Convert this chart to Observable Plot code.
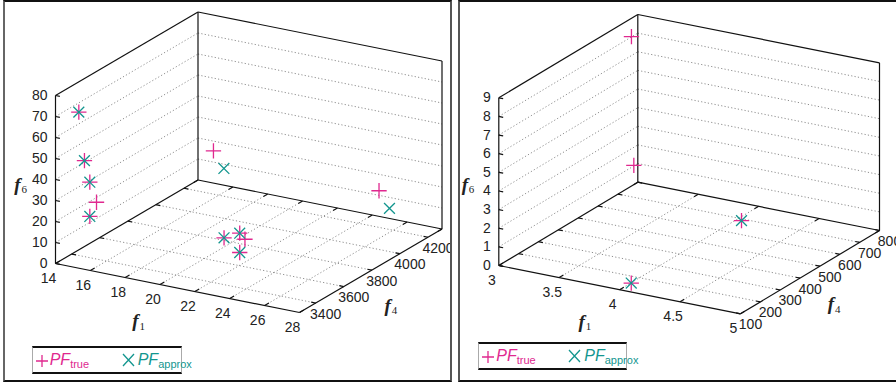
<!DOCTYPE html>
<html><head><meta charset="utf-8">
<script src="https://cdn.jsdelivr.net/npm/d3@7"></script>
<script src="https://cdn.jsdelivr.net/npm/@observablehq/plot@0.6"></script>
<style>
body{margin:0;background:#fff;}
#wrap{position:relative;width:896px;height:383px;overflow:hidden;}
.panel{position:absolute;top:0;height:378px;border-top:2px solid #111;border-bottom:2px solid #111;}
#left{left:3px;width:445px;border-left:2px solid #666;border-right:2px solid #555;}
#right{left:458px;width:438px;border-left:2px solid #555;}
.panel svg{position:absolute;left:0;top:0;}
.legend{position:absolute;height:24px;border-top:2px solid #111;border-bottom:2px solid #111;border-left:1px solid #aaa;border-right:1px solid #aaa;background:#fff;}
.legend .it{position:absolute;top:3px;font-family:"Liberation Sans Narrow","Liberation Sans",sans-serif;font-style:italic;font-size:16px;line-height:18px;white-space:nowrap;}
.legend .it sub{font-style:normal;font-size:11px;vertical-align:-3px;}
.legend svg{position:absolute;top:0;}
</style>
</head><body>
<div id="wrap">
  <div class="panel" id="left"></div>
  <div class="panel" id="right"></div>
</div>
<script>
// ---------- DATA ----------
const seriesNames = ["PF", "PF"];
const seriesSubs = ["true", "approx"];
const colorTrue = "#e0288f";
const colorApprox = "#13968f";

// left panel
const leftF1Domain = [14, 28];
const leftF4Domain = [3285, 4300];
const leftF6Domain = [0, 80];
const leftF1Ticks = [14, 16, 18, 20, 22, 24, 26, 28];
const leftF4Ticks = [3400, 3600, 3800, 4000, 4200];
const leftF6Ticks = [0, 10, 20, 30, 40, 50, 60, 70, 80];
const leftTrueF1 = [15.0, 15.5, 15.8, 16.2, 15.8, 15.7, 25.2, 20.4, 21.3, 21.6, 21.3];
const leftTrueF4 = [3327, 3305, 3306, 3304, 3306, 4199, 4199, 3691, 3691, 3691, 3691];
const leftTrueF6 = [72.1, 50.7, 40.9, 32.1, 24.6, 20.7, 17.5, 7.0, 10.7, 8.3, 1.5];
const leftApproxF1 = [15.0, 15.5, 15.8, 15.8, 16.3, 25.8, 20.4, 21.3, 21.3];
const leftApproxF4 = [3327, 3305, 3306, 3306, 4199, 4199, 3691, 3691, 3691];
const leftApproxF6 = [72.1, 50.7, 40.9, 24.6, 13.3, 10.1, 7.0, 10.7, 1.5];

// right panel
const rightF1Domain = [3, 5];
const rightF4Domain = [100, 800];
const rightF6Domain = [0, 9];
const rightF1Ticks = [3, 3.5, 4, 4.5, 5];
const rightF4Ticks = [100, 200, 300, 400, 500, 600, 700, 800];
const rightF6Ticks = [0, 1, 2, 3, 4, 5, 6, 7, 8, 9];
const rightTrueF1 = [4.05, 4.08, 3.0, 3.0];
const rightTrueF4 = [128, 665, 768, 780];
const rightTrueF6 = [0.24, 0.2, 8.02, 1.03];
const rightApproxF1 = [4.05, 4.08];
const rightApproxF4 = [128, 665];
const rightApproxF6 = [0.24, 0.2];

// ---------- VIEW (projection of the 3D box) ----------
const leftView = {o: [50, 261], e1: [244, 49], e4: [142.5, -83.5], e6: [0, -168], w: 445,
  t1Off: [-42, 33], t4Off: [17, 35], t6Off: [-38, 5]};
const rightView = {o: [38.3, 263], e1: [241.7, 48.3], e4: [139, -83.3], e6: [0, -167.7], w: 436,
  t1Off: [-38, 32], t4Off: [21, 32], t6Off: [-34, 3]};

const tickFont = "'Liberation Sans Narrow','Liberation Sans',sans-serif";
const titleFont = "'Liberation Serif','DejaVu Serif',serif";

function buildPanel(cfg) {
  const [a0, a1] = cfg.d1, [b0, b1] = cfg.d4, [c0, c1] = cfg.d6;
  const V = cfg.view;
  const P = (a, b, c) => {
    const u = (a - a0) / (a1 - a0), v = (b - b0) / (b1 - b0), w = (c - c0) / (c1 - c0);
    return [V.o[0] + u * V.e1[0] + v * V.e4[0] + w * V.e6[0],
            V.o[1] + u * V.e1[1] + v * V.e4[1] + w * V.e6[1]];
  };
  const seg = (p, q) => ({x1: p[0], y1: p[1], x2: q[0], y2: q[1]});
  const frame = [
    seg(P(a0, b0, c0), P(a1, b0, c0)), seg(P(a1, b0, c0), P(a1, b1, c0)),
    seg(P(a0, b0, c0), P(a0, b1, c0)), seg(P(a0, b1, c0), P(a1, b1, c0)),
    seg(P(a0, b0, c0), P(a0, b0, c1)), seg(P(a0, b1, c0), P(a0, b1, c1)),
    seg(P(a1, b1, c0), P(a1, b1, c1)),
    seg(P(a0, b0, c1), P(a0, b1, c1)), seg(P(a0, b1, c1), P(a1, b1, c1))
  ];
  const inner = (ts, lo, hi) => ts.filter(t => t > lo + 1e-9 && t < hi - 1e-9);
  const grid = [];
  inner(cfg.t1, a0, a1).forEach(t => grid.push(seg(P(t, b0, c0), P(t, b1, c0))));
  inner(cfg.t4, b0, b1).forEach(t => grid.push(seg(P(a0, t, c0), P(a1, t, c0))));
  inner(cfg.t6, c0, c1).forEach(t => {
    grid.push(seg(P(a0, b0, t), P(a0, b1, t)));
    grid.push(seg(P(a0, b1, t), P(a1, b1, t)));
  });
  const du = 0.018 * (a1 - a0), dv = 0.03 * (b1 - b0);
  const ticks = [];
  cfg.t1.forEach(t => {
    ticks.push(seg(P(t, b0, c0), P(t, b0 + dv, c0)));
    ticks.push(seg(P(t, b1, c0), P(t, b1 - dv, c0)));
  });
  cfg.t4.forEach(t => {
    ticks.push(seg(P(a1, t, c0), P(a1 - du, t, c0)));
    ticks.push(seg(P(a0, t, c0), P(a0 + du, t, c0)));
  });
  cfg.t6.forEach(t => ticks.push(seg(P(a0, b0, t), P(a0 + du, b0, t))));

  const lab1 = cfg.t1.map(t => { const p = P(t, b0, c0); return {x: p[0] - 7, y: p[1] + 15, text: String(t)}; });
  const lab4 = cfg.t4.map(t => { const p = P(a1, t, c0); return {x: p[0] + 10, y: p[1] + 11, text: String(t)}; });
  const lab6 = cfg.t6.map(t => { const p = P(a0, b0, t); return {x: p[0] - 8, y: p[1], text: String(t)}; });

  const m1 = P((a0 + a1) / 2, b0, c0);
  const m4 = P(a1, (b0 + b1) / 2, c0);
  const m6 = P(a0, b0, (c0 + c1) / 2);
  const titles = [
    {x: m1[0] + V.t1Off[0], y: m1[1] + V.t1Off[1], f: "f", s: "1"},
    {x: m4[0] + V.t4Off[0], y: m4[1] + V.t4Off[1], f: "f", s: "4"},
    {x: m6[0] + V.t6Off[0], y: m6[1] + V.t6Off[1], f: "f", s: "6"}
  ];
  const pt = (F1, F4, F6) => F1.map((f, i) => P(f, F4[i], F6[i]));
  const truePts = pt(cfg.trueF1, cfg.trueF4, cfg.trueF6);
  const apxPts = pt(cfg.apxF1, cfg.apxF4, cfg.apxF6);

  return Plot.plot({
    width: V.w, height: 378,
    margin: 0,
    x: {type: "identity", axis: null},
    y: {type: "identity", axis: null},
    marks: [
      Plot.link(grid, {x1: "x1", y1: "y1", x2: "x2", y2: "y2", stroke: "#8f8f8f", strokeWidth: 1, strokeDasharray: "1.2,2.2"}),
      Plot.link(frame, {x1: "x1", y1: "y1", x2: "x2", y2: "y2", stroke: "#111", strokeWidth: 1.2}),
      Plot.link(ticks, {x1: "x1", y1: "y1", x2: "x2", y2: "y2", stroke: "#111", strokeWidth: 1.2}),
      Plot.text(lab1, {x: "x", y: "y", text: "text", fontSize: 14, fontFamily: tickFont, fill: "#222"}),
      Plot.text(lab4, {x: "x", y: "y", text: "text", fontSize: 14, fontFamily: tickFont, fill: "#222"}),
      Plot.text(lab6, {x: "x", y: "y", text: "text", fontSize: 14, fontFamily: tickFont, fill: "#222", textAnchor: "end"}),
      Plot.text(titles, {x: "x", y: "y", text: "f", fontSize: 19, fontFamily: titleFont, fontStyle: "italic", fontWeight: "bold", fill: "#222"}),
      Plot.text(titles, {x: d => d.x + 4, y: d => d.y + 5, text: "s", fontSize: 11, fontFamily: titleFont, fill: "#222", textAnchor: "start"}),
      Plot.dot(truePts, {x: d => d[0], y: d => d[1], symbol: "plus", r: 5, stroke: colorTrue, strokeWidth: 1.3}),
      Plot.dot(apxPts, {x: d => d[0], y: d => d[1], symbol: "times", r: 5, stroke: colorApprox, strokeWidth: 1.3})
    ]
  });
}

function legend(left, top, width) {
  const div = document.createElement("div");
  div.className = "legend";
  div.style.left = left + "px";
  div.style.top = top + "px";
  div.style.width = width + "px";
  const sym = (x, kind, color) => {
    const s = d3.create("svg").attr("width", 14).attr("height", 24).style("left", x + "px");
    if (kind === "plus") {
      s.append("path").attr("d", "M1,13H13M7,7V19").attr("stroke", color).attr("stroke-width", 1.3).attr("fill", "none");
    } else {
      s.append("path").attr("d", "M1,6L12,18M12,6L1,18").attr("stroke", color).attr("stroke-width", 1.3).attr("fill", "none");
    }
    return s.node();
  };
  div.appendChild(sym(2, "plus", colorTrue));
  const t1 = document.createElement("span");
  t1.className = "it"; t1.style.left = "17px"; t1.style.color = colorTrue;
  t1.innerHTML = seriesNames[0] + "<sub>" + seriesSubs[0] + "</sub>";
  div.appendChild(t1);
  div.appendChild(sym(89, "times", colorApprox));
  const t2 = document.createElement("span");
  t2.className = "it"; t2.style.left = "105px"; t2.style.color = colorApprox;
  t2.innerHTML = seriesNames[1] + "<sub>" + seriesSubs[1] + "</sub>";
  div.appendChild(t2);
  return div;
}

const L = document.getElementById("left");
L.appendChild(buildPanel({
  view: leftView, d1: leftF1Domain, d4: leftF4Domain, d6: leftF6Domain,
  t1: leftF1Ticks, t4: leftF4Ticks, t6: leftF6Ticks,
  trueF1: leftTrueF1, trueF4: leftTrueF4, trueF6: leftTrueF6,
  apxF1: leftApproxF1, apxF4: leftApproxF4, apxF6: leftApproxF6
}));
L.appendChild(legend(26.7, 343.7, 148));

const R = document.getElementById("right");
R.appendChild(buildPanel({
  view: rightView, d1: rightF1Domain, d4: rightF4Domain, d6: rightF6Domain,
  t1: rightF1Ticks, t4: rightF4Ticks, t6: rightF6Ticks,
  trueF1: rightTrueF1, trueF4: rightTrueF4, trueF6: rightTrueF6,
  apxF1: rightApproxF1, apxF4: rightApproxF4, apxF6: rightApproxF6
}));
R.appendChild(legend(18.3, 339.7, 147));
</script>
</body></html>
